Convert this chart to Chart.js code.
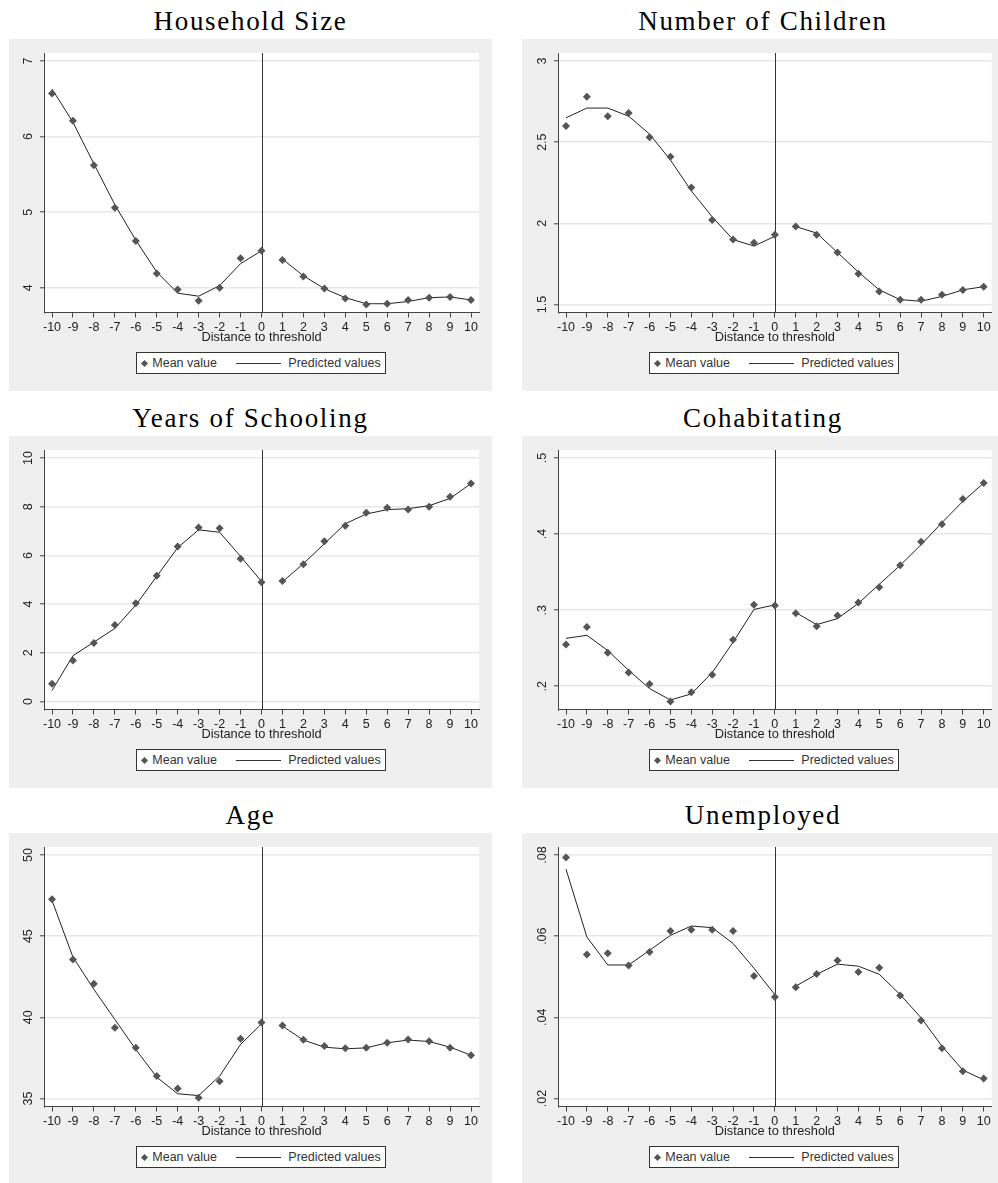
<!DOCTYPE html>
<html>
<head>
<meta charset="utf-8">
<script src="https://cdn.jsdelivr.net/npm/chart.js@4.4.1/dist/chart.umd.min.js"></script>
<style>
  html, body { margin: 0; padding: 0; background: #fff; }
  #page { position: relative; width: 998px; height: 1183px; overflow: hidden; background: #fff; }
  .title { position: absolute; width: 500px; text-align: center; font-family: "Liberation Serif", serif;
           font-size: 27px; line-height: 30px; color: #000; letter-spacing: 1.7px; white-space: nowrap; }
  .panel { position: absolute; height: 352px; }
  .panel canvas { position: absolute; left: 0; top: 0; }
  .legend { position: absolute; left: 127px; top: 313px; width: 250px; height: 22px; box-sizing: border-box;
            border: 1px solid #333; background: #fff; font-family: "Liberation Sans", Arial, sans-serif;
            font-size: 12.5px; color: #333; }
  .legend .mk { position: absolute; left: 4.5px; top: 7.5px; width: 5px; height: 5px; background: #555; transform: rotate(45deg); }
  .legend .ln { position: absolute; left: 99px; top: 10px; width: 45px; height: 1px; background: #333; }
  .legend .t1, .legend .t2 { position: absolute; top: 0; line-height: 20px; white-space: nowrap; }
  .legend .t1 { left: 15.3px; }
  .legend .t2 { left: 151.3px; }
</style>
</head>
<body>
<div id="page"></div>
<script>
// Distance to the eligibility threshold (x axis)
const distance = [-10, -9, -8, -7, -6, -5, -4, -3, -2, -1, 0, 1, 2, 3, 4, 5, 6, 7, 8, 9, 10];
const distanceTickLabels = ['-10', '-9', '-8', '-7', '-6', '-5', '-4', '-3', '-2', '-1', '0',
                            '1', '2', '3', '4', '5', '6', '7', '8', '9', '10'];

// Household size
const householdMean = [6.57, 6.21, 5.62, 5.06, 4.62, 4.19, 3.98, 3.83, 4.00, 4.39, 4.49,
                       4.37, 4.15, 3.99, 3.86, 3.78, 3.79, 3.84, 3.87, 3.88, 3.84];
const householdFit  = [6.63, 6.19, 5.64, 5.10, 4.63, 4.21, 3.93, 3.89, 4.03, 4.32, 4.49,
                       4.38, 4.16, 3.99, 3.87, 3.79, 3.79, 3.82, 3.87, 3.88, 3.84];
const householdTicks = [4, 5, 6, 7];
const householdTickLabels = ['4', '5', '6', '7'];

// Number of children
const childrenMean = [2.60, 2.78, 2.66, 2.68, 2.53, 2.41, 2.22, 2.02, 1.90, 1.88, 1.93,
                      1.98, 1.93, 1.82, 1.69, 1.58, 1.53, 1.53, 1.56, 1.59, 1.61];
const childrenFit  = [2.65, 2.71, 2.71, 2.66, 2.55, 2.39, 2.20, 2.04, 1.90, 1.86, 1.92,
                      1.98, 1.94, 1.82, 1.70, 1.59, 1.53, 1.52, 1.55, 1.59, 1.61];
const childrenTicks = [1.5, 2, 2.5, 3];
const childrenTickLabels = ['1.5', '2', '2.5', '3'];

// Years of schooling
const schoolingMean = [0.73, 1.68, 2.40, 3.14, 4.03, 5.16, 6.37, 7.15, 7.12, 5.86, 4.90,
                       4.95, 5.64, 6.58, 7.22, 7.75, 7.96, 7.88, 8.00, 8.41, 8.95];
const schoolingFit  = [0.45, 1.88, 2.44, 3.00, 3.96, 5.14, 6.32, 7.05, 6.95, 5.96, 4.93,
                       4.92, 5.66, 6.48, 7.30, 7.70, 7.88, 7.92, 8.04, 8.34, 8.95];
const schoolingTicks = [0, 2, 4, 6, 8, 10];
const schoolingTickLabels = ['0', '2', '4', '6', '8', '10'];

// Cohabitating (share)
const cohabMean = [0.255, 0.278, 0.244, 0.218, 0.203, 0.180, 0.192, 0.215, 0.261, 0.307, 0.306,
                   0.296, 0.279, 0.293, 0.310, 0.330, 0.359, 0.390, 0.413, 0.446, 0.467];
const cohabFit  = [0.263, 0.267, 0.247, 0.221, 0.197, 0.182, 0.190, 0.218, 0.258, 0.301, 0.307,
                   0.297, 0.281, 0.289, 0.309, 0.334, 0.359, 0.386, 0.415, 0.443, 0.467];
const cohabTicks = [0.2, 0.3, 0.4, 0.5];
const cohabTickLabels = ['.2', '.3', '.4', '.5'];

// Age
const ageMean = [47.27, 43.57, 42.07, 39.36, 38.12, 36.38, 35.62, 35.04, 36.07, 38.68, 39.68,
                 39.50, 38.62, 38.23, 38.10, 38.12, 38.43, 38.64, 38.53, 38.12, 37.67];
const ageFit  = [47.20, 43.71, 41.72, 39.87, 38.02, 36.31, 35.29, 35.18, 36.38, 38.33, 39.60,
                 39.46, 38.60, 38.16, 38.06, 38.12, 38.43, 38.60, 38.51, 38.16, 37.67];
const ageTicks = [35, 40, 45, 50];
const ageTickLabels = ['35', '40', '45', '50'];

// Unemployed (share)
const unemployedMean = [0.0794, 0.0555, 0.0558, 0.0528, 0.0561, 0.0613, 0.0616, 0.0616, 0.0613, 0.0502, 0.0450,
                        0.0474, 0.0507, 0.0540, 0.0512, 0.0522, 0.0454, 0.0392, 0.0324, 0.0267, 0.0249];
const unemployedFit  = [0.0765, 0.0598, 0.0529, 0.0529, 0.0565, 0.0602, 0.0625, 0.0621, 0.0582, 0.0521, 0.0456,
                        0.0477, 0.0506, 0.0531, 0.0526, 0.0506, 0.0456, 0.0399, 0.0329, 0.0270, 0.0246];
const unemployedTicks = [0.02, 0.04, 0.06, 0.08];
const unemployedTickLabels = ['.02', '.04', '.06', '.08'];

const panels = [
  { title: 'Household Size',     mean: householdMean,  fit: householdFit,  ticks: householdTicks,  labels: householdTickLabels,  col: 0, row: 0 },
  { title: 'Number of Children', mean: childrenMean,   fit: childrenFit,   ticks: childrenTicks,   labels: childrenTickLabels,   col: 1, row: 0 },
  { title: 'Years of Schooling', mean: schoolingMean,  fit: schoolingFit,  ticks: schoolingTicks,  labels: schoolingTickLabels,  col: 0, row: 1 },
  { title: 'Cohabitating',       mean: cohabMean,      fit: cohabFit,      ticks: cohabTicks,      labels: cohabTickLabels,      col: 1, row: 1 },
  { title: 'Age',                mean: ageMean,        fit: ageFit,        ticks: ageTicks,        labels: ageTickLabels,        col: 0, row: 2 },
  { title: 'Unemployed',         mean: unemployedMean, fit: unemployedFit, ticks: unemployedTicks, labels: unemployedTickLabels, col: 1, row: 2 }
];

// Panel geometry
const COLS = [{ left: 9, width: 483, yAxisW: 35, padRight: 13, titleCenter: 250.5 },
              { left: 522, width: 476, yAxisW: 36, padRight: 6.3, titleCenter: 763 }];
const ROW_TOP = [39, 436, 833];
const TITLE_TOP = [6, 403, 800];
const PANEL_H = 352;
const PLOT_TOP = 14;
const PLOT_H = 259.5;
const INNER_MARGIN = 8;   // gap between data/tick range and plot edge

const GRAY = '#efefef';
const TEXT = '#222';
const FONT = '"Liberation Sans", Arial, sans-serif';
const TICK_SIZE = 12.5;

// Paint the grey panel, white plot region and the threshold line at zero
const panelPaint = {
  id: 'panelPaint',
  beforeDraw(chart) {
    const { ctx, chartArea: a } = chart;
    ctx.save();
    ctx.fillStyle = GRAY;
    ctx.fillRect(0, 0, chart.width, chart.height);
    ctx.fillStyle = '#fff';
    ctx.fillRect(a.left, a.top, a.right - a.left, a.bottom - a.top);
    ctx.restore();
  },
  beforeDatasetsDraw(chart) {
    const { ctx, chartArea: a, scales } = chart;
    const x0 = Math.round(scales.x.getPixelForValue(0)) + 0.5;
    ctx.save();
    ctx.strokeStyle = '#333';
    ctx.lineWidth = 1;
    ctx.beginPath();
    ctx.moveTo(x0, a.top);
    ctx.lineTo(x0, a.bottom);
    ctx.stroke();
    ctx.restore();
  },
  afterDraw(chart) {
    // vertical y tick labels
    const { ctx, scales } = chart;
    const opts = chart.options.plugins.panelPaint;
    const y = scales.y;
    ctx.save();
    ctx.fillStyle = TEXT;
    ctx.font = TICK_SIZE + 'px ' + FONT;
    ctx.textAlign = 'center';
    ctx.textBaseline = 'middle';
    opts.ticks.forEach((v, i) => {
      const py = y.getPixelForValue(v);
      ctx.save();
      ctx.translate(chart.chartArea.left - 15, py);
      ctx.rotate(-Math.PI / 2);
      ctx.fillText(opts.labels[i], 0, 0);
      ctx.restore();
    });
    ctx.restore();
  }
};

const page = document.getElementById('page');

panels.forEach(p => {
  const col = COLS[p.col];
  const top = ROW_TOP[p.row];

  const title = document.createElement('div');
  title.className = 'title';
  title.style.left = (col.titleCenter - 250) + 'px';
  title.style.top = TITLE_TOP[p.row] + 'px';
  title.textContent = p.title;
  page.appendChild(title);

  const panel = document.createElement('div');
  panel.className = 'panel';
  panel.style.left = col.left + 'px';
  panel.style.top = top + 'px';
  panel.style.width = col.width + 'px';
  page.appendChild(panel);

  const canvas = document.createElement('canvas');
  canvas.width = col.width;
  canvas.height = PANEL_H;
  canvas.style.width = col.width + 'px';
  canvas.style.height = PANEL_H + 'px';
  panel.appendChild(canvas);

  const legend = document.createElement('div');
  legend.className = 'legend';
  legend.innerHTML = '<div class="mk"></div><span class="t1">Mean value</span>' +
                     '<div class="ln"></div><span class="t2">Predicted values</span>';
  panel.appendChild(legend);

  // axis ranges: tick/data extent plus a fixed pixel margin
  const all = p.ticks.concat(p.mean, p.fit);
  const lo = Math.min(...all), hi = Math.max(...all);
  const yPad = (hi - lo) * INNER_MARGIN / (PLOT_H - 2 * INNER_MARGIN);
  const plotW = col.width - col.yAxisW - col.padRight;
  const xLo = distance[0], xHi = distance[distance.length - 1];
  const xPad = (xHi - xLo) * INNER_MARGIN / (plotW - 2 * INNER_MARGIN);

  const meanPts = distance.map((x, i) => ({ x, y: p.mean[i] }));
  const fitPts = [];
  distance.forEach((x, i) => {
    fitPts.push({ x, y: p.fit[i] });
    if (x === 0) fitPts.push({ x: 0.5, y: null }); // separate fits on each side of the threshold
  });

  new Chart(canvas, {
    type: 'scatter',
    data: {
      datasets: [
        { label: 'Mean value', data: meanPts, pointStyle: 'rectRot', pointRadius: 4,
          backgroundColor: '#555', borderColor: '#555', borderWidth: 0, showLine: false },
        { label: 'Predicted values', data: fitPts, showLine: true, pointRadius: 0,
          borderColor: '#222', borderWidth: 1, spanGaps: false, tension: 0 }
      ]
    },
    options: {
      responsive: false,
      animation: false,
      events: [],
      layout: { padding: { left: 0, right: col.padRight, top: PLOT_TOP, bottom: 45.9 } },
      plugins: {
        legend: { display: false },
        tooltip: { enabled: false },
        panelPaint: { ticks: p.ticks, labels: p.labels }
      },
      scales: {
        x: {
          type: 'linear',
          min: xLo - xPad,
          max: xHi + xPad,
          afterBuildTicks: s => { s.ticks = distance.map(v => ({ value: v })); },
          afterFit: s => { s.height = 32.6; },
          ticks: {
            autoSkip: false, maxRotation: 0, minRotation: 0, padding: 2.7,
            color: TEXT, font: { family: FONT, size: TICK_SIZE },
            callback: (v, i) => distanceTickLabels[i]
          },
          grid: { drawOnChartArea: false, drawTicks: true, tickLength: 5, tickColor: '#444', tickWidth: 1 },
          border: { display: true, color: '#444', width: 1 },
          title: { display: true, text: 'Distance to threshold', color: TEXT,
                   font: { family: FONT, size: 12.8 }, padding: 0 }
        },
        y: {
          type: 'linear',
          min: lo - yPad,
          max: hi + yPad,
          afterBuildTicks: s => { s.ticks = p.ticks.map(v => ({ value: v })); },
          afterFit: s => { s.width = col.yAxisW; },
          ticks: { display: false },
          grid: { color: '#e8e8e8', lineWidth: 1.6, drawTicks: true, tickLength: 4, tickColor: '#444', tickWidth: 1 },
          border: { display: true, color: '#444', width: 1 }
        }
      }
    },
    plugins: [panelPaint]
  });
});
</script>
</body>
</html>
